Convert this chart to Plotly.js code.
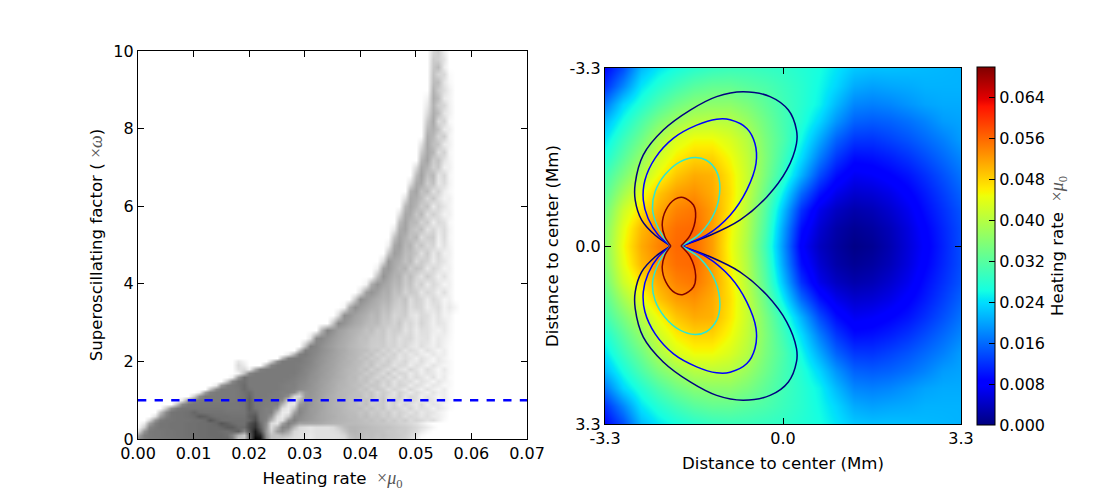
<!DOCTYPE html>
<html>
<head>
<meta charset="utf-8">
<script src="https://cdn.plot.ly/plotly-3.0.1.min.js"></script>
<style>
  html, body { margin: 0; padding: 0; background: #fff; }
</style>
</head>
<body>
<div id="myChart" style="width:1105px;height:492px;"></div>
<script>
// left panel: histogram darkness, 0 = white, 100 = black
var histX = [];
for (var c = 0; c <= 70; c++) histX.push(c / 1000);
var histY = [0,0.1,0.2,0.3,0.4,0.5,0.6,0.7,0.8,0.9,1,1.1,1.2,1.3,1.4,1.5,1.6,1.7,1.8,1.9,2,2.1,2.2,2.3,
  2.4,2.6,2.8,3,3.2,3.4,3.6,3.8,4,4.2,4.4,4.6,4.8,5,5.2,5.4,5.6,5.8,6,6.2,6.4,6.6,6.8,7,7.2,7.4,7.6,7.8,8,8.2,8.4,8.6,8.8,9,9.2,9.4,9.6,9.8,10];
// first non empty column of each row
var histStart = [0,0,0,0,1,2,3,4,5,7,8,10,11,13,14,16,17,18,18,18,18,26,27,29,
  30,31,33,35,36,37,39,40,41,43,43,44,45,45,46,46,47,47,48,48,49,49,50,50,51,51,51,52,52,52,52,52,52,53,53,53,53,53,53];
var histDark = [
  [45,50,52,52,53,53,54,54,55,55,56,56,57,57,58,58,58,50,20,22,55,100,95,45,25,22,18,14,12,12,10,8,12,12,12,12,13,14,22,26,26,24,25,23,24,22,22,20,18,14,8],
  [35,50,52,53,53,54,54,55,55,56,56,57,57,58,58,58,56,48,30,20,60,92,85,42,24,24,28,24,14,12,11,9,12,12,12,12,13,16,25,28,27,25,26,24,25,23,22,21,19,16,10,3],
  [12,42,52,53,53,54,54,55,55,56,56,57,57,58,58,57,56,58,62,48,66,90,70,40,18,38,44,34,16,13,12,10,12,12,12,13,15,22,28,29,27,26,26,25,24,22,22,20,20,17,14,8,3],
  [2,20,48,52,54,54,55,55,55,56,56,57,57,58,58,60,64,64,58,58,70,80,62,42,14,30,48,46,28,15,12,10,12,12,12,14,20,26,29,29,28,27,26,25,24,24,22,21,20,18,15,12,8,3],
  [8,36,50,54,54,55,55,55,56,56,57,57,58,60,66,62,58,56,56,68,76,58,44,14,10,36,50,44,36,36,35,34,33,31,30,29,28,27,27,26,25,24,23,22,21,20,18,17,15,12,8,3],
  [15,42,52,54,54,55,55,55,56,56,58,66,60,57,56,56,56,56,60,70,54,48,30,10,12,42,50,44,41,39,37,35,33,31,30,29,28,27,26,24,25,22,24,19,21,17,20,14,17,15,11,13,7,2],
  [12,38,50,54,55,55,56,58,64,62,58,56,56,56,55,55,55,62,66,52,50,42,14,8,20,46,46,42,40,37,35,33,32,30,29,27,27,24,26,22,23,19,21,16,19,13,16,14,10,13,8,7,3],
  [25,46,54,55,55,56,60,56,55,55,55,55,54,54,54,54,60,60,52,50,50,26,8,8,36,48,43,40,38,35,33,31,30,28,27,26,23,25,20,22,18,21,14,18,15,11,15,9,12,10,6,3],
  [22,44,52,54,54,54,54,54,54,54,54,53,53,53,54,62,54,52,50,50,42,14,8,22,46,44,40,38,36,33,31,30,28,26,25,26,21,24,19,22,15,19,16,12,17,10,13,11,6,10,6,2],
  [25,46,52,53,53,53,53,53,53,53,53,53,54,62,53,52,51,50,50,30,10,10,40,44,41,38,36,33,31,29,28,26,25,22,25,19,20,21,14,18,11,17,13,9,15,7,11,9,4,2],
  [10,40,50,52,52,52,52,52,52,52,53,55,62,52,52,51,51,50,46,18,8,28,42,40,38,35,33,31,29,28,25,26,21,24,20,17,22,13,19,15,10,16,12,7,13,9,4,8,3],
  [20,44,52,52,52,52,52,52,53,55,60,52,52,52,51,51,50,44,16,14,40,41,39,36,33,31,29,28,26,25,25,20,23,17,21,14,12,19,10,15,13,6,11,8,4,7,2],
  [6,38,50,52,52,52,52,53,56,58,52,52,52,52,51,50,50,46,30,40,42,39,37,34,32,29,28,27,25,24,21,23,15,20,17,11,18,13,8,14,10,5,11,6,7,2],
  [24,46,52,52,52,53,58,54,52,52,52,52,52,51,50,49,46,44,42,40,37,35,32,30,28,27,26,22,24,18,21,19,12,17,14,9,16,10,6,12,7,4,8,2],
  [8,40,50,52,54,58,52,52,52,52,52,52,51,50,50,47,45,43,40,38,35,33,30,29,27,25,25,20,22,21,14,19,12,17,15,8,13,11,5,10,8,3,3],
  [22,46,54,56,52,52,52,52,52,52,52,51,50,48,46,43,41,38,36,33,31,29,27,26,23,24,18,22,16,19,11,16,13,14,7,12,9,4,10,6,3],
  [6,40,56,52,52,52,52,52,52,52,52,51,49,47,44,42,39,37,34,32,30,27,27,22,24,21,16,20,14,18,10,16,9,14,11,6,12,4,8,2],
  [5,24,48,52,52,52,52,52,52,52,52,50,48,45,42,40,37,35,32,30,28,26,25,20,23,19,14,21,11,16,15,8,13,7,11,9,4,7,3],
  [12,14,6,34,50,52,52,52,52,52,52,51,48,46,43,40,38,35,33,30,28,27,23,25,18,22,17,13,19,12,9,16,11,6,13,8,3,9,3],
  [14,8,0,0,0,28,48,52,52,52,52,51,49,47,44,41,38,36,33,31,29,27,25,21,24,16,20,18,11,15,14,7,12,10,5,11,7,4,3],
  [10,4,0,0,0,0,18,44,52,52,52,52,50,48,44,42,39,36,34,31,30,27,26,22,23,19,16,20,13,12,16,9,8,13,7,4,9,6,3],
  [28,50,52,52,50,48,45,42,39,37,34,32,29,28,24,25,20,21,15,18,16,10,14,11,6,12,8,4,9,5,2],
  [8,30,50,52,49,46,43,40,37,35,32,30,28,26,22,24,17,20,15,18,11,14,9,12,8,5,10,6,7,2],
  [24,50,49,47,44,41,38,35,33,30,28,26,25,21,22,16,19,13,17,10,14,11,6,12,8,4,7,2],
  [25,50,48,44,40,37,34,32,29,27,25,23,20,19,20,16,17,13,16,11,8,13,9,6,10,5,2],
  [10,46,47,43,39,36,33,31,28,25,25,21,20,21,15,18,12,15,16,9,11,12,5,9,6,3],
  [28,48,43,38,35,32,30,28,24,26,20,22,16,19,19,11,15,8,13,12,7,5,9,4],
  [24,46,42,38,34,32,28,26,27,21,21,17,22,13,16,10,17,12,6,11,9,4],
  [14,44,42,37,34,31,27,29,22,24,16,18,20,12,9,15,13,7,12,5,5],
  [4,32,44,39,35,32,30,25,27,20,18,22,13,17,16,7,11,14,5,9,4],
  [22,44,40,36,32,29,30,23,20,24,13,19,16,8,15,11,4,6],
  [12,38,42,37,31,32,24,26,17,21,19,10,16,12,6,13,5],
  [5,32,42,36,33,27,29,20,24,14,19,8,15,11,4,6],
  [24,42,36,30,31,21,26,17,11,20,13,6,12,5],
  [6,36,40,33,28,30,19,24,21,9,16,12,5,6],
  [14,40,34,31,24,28,14,20,17,8,14,10,5],
  [22,38,35,26,27,22,12,21,9,16,6,6],
  [6,34,38,28,30,18,23,14,17,5,12,5],
  [24,36,31,24,28,13,19,20,6,14,4],
  [8,32,36,26,21,25,11,16,9,14,5],
  [26,36,28,27,17,21,7,15,12,3],
  [12,34,33,22,28,12,19,13,5,6],
  [28,35,29,20,24,8,16,10,5],
  [12,34,32,26,15,22,12,5,6],
  [30,36,24,27,12,18,7,3],
  [12,33,34,19,25,9,14,5],
  [26,37,24,28,10,16,4],
  [14,34,30,18,22,6,6],
  [28,36,20,24,11,5],
  [20,34,29,13,18,4],
  [11,34,25,23,8,6],
  [32,28,16,20,5],
  [27,31,24,8,7],
  [21,34,14,17,3],
  [14,32,26,10,6],
  [9,30,19,16,6],
  [5,32,26,8,5],
  [30,20,13,6],
  [26,26,10,3],
  [24,16,15,2],
  [22,27,7],
  [20,18,11],
  [16,20,7]
];
var cutX = [0, 0.07];
var cutY = [1, 1];

// right panel: heating rate
var heatX = [-3.3,-2.97,-2.64,-2.31,-1.98,-1.65,-1.32,-0.99,-0.66,-0.33,0,0.33,0.66,0.99,1.32,1.65,1.98,2.31,2.64,2.97,3.3];
var heatY = [-3.3,-2.97,-2.64,-2.31,-1.98,-1.65,-1.32,-0.99,-0.66,-0.33,0,0.33,0.66,0.99,1.32,1.65,1.98,2.31,2.64,2.97,3.3];
var heatZ = [
  [.009,.014,.0215,.0245,.0265,.028,.029,.0295,.0295,.029,.0285,.0275,.0265,.0245,.0225,.022,.022,.0218,.0215,.0213,.021],
  [.012,.018,.0245,.0275,.030,.032,.033,.033,.032,.031,.0295,.028,.026,.0235,.0205,.0198,.0202,.0205,.021,.021,.021],
  [.017,.0235,.0275,.031,.034,.036,.0365,.0365,.035,.0325,.030,.028,.0255,.0215,.018,.0175,.018,.019,.020,.0205,.0205],
  [.0215,.0265,.031,.035,.038,.040,.0405,.040,.0375,.034,.0305,.0275,.0235,.019,.0155,.015,.0155,.0165,.0178,.0195,.020],
  [.0245,.0295,.034,.039,.043,.045,.045,.043,.040,.035,.031,.026,.0205,.0155,.0125,.0123,.0133,.0145,.016,.0176,.0195],
  [.027,.032,.037,.042,.046,.048,.048,.045,.041,.0355,.030,.024,.0175,.0125,.0095,.0098,.0108,.0122,.014,.016,.018],
  [.030,.035,.040,.045,.049,.051,.0505,.0465,.0415,.035,.0285,.021,.014,.0095,.007,.0075,.0086,.010,.012,.0143,.0167],
  [.032,.0385,.044,.049,.052,.053,.051,.047,.041,.0335,.025,.016,.010,.0065,.0048,.0052,.0064,.0083,.0105,.013,.0155],
  [.034,.042,.047,.051,.054,.055,.052,.0465,.040,.032,.022,.012,.0065,.004,.0027,.0033,.0048,.0068,.0095,.012,.0145],
  [.0355,.044,.050,.053,.0555,.056,.052,.0455,.0395,.031,.020,.0095,.005,.0025,.0013,.002,.0035,.0058,.0085,.0113,.014],
  [.036,.045,.051,.054,.056,.056,.052,.045,.039,.030,.019,.008,.004,.002,.0005,.0012,.003,.0055,.008,.011,.014],
  [.0355,.044,.050,.053,.0555,.056,.052,.0455,.0395,.031,.020,.0095,.005,.0025,.0013,.002,.0035,.0058,.0085,.0113,.014],
  [.034,.042,.047,.051,.054,.055,.052,.0465,.040,.032,.022,.012,.0065,.004,.0027,.0033,.0048,.0068,.0095,.012,.0145],
  [.032,.0385,.044,.049,.052,.053,.051,.047,.041,.0335,.025,.016,.010,.0065,.0048,.0052,.0064,.0083,.0105,.013,.0155],
  [.030,.035,.040,.045,.049,.051,.0505,.0465,.0415,.035,.0285,.021,.014,.0095,.007,.0075,.0086,.010,.012,.0143,.0167],
  [.027,.032,.037,.042,.046,.048,.048,.045,.041,.0355,.030,.024,.0175,.0125,.0095,.0098,.0108,.0122,.014,.016,.018],
  [.0245,.0295,.034,.039,.043,.045,.045,.043,.040,.035,.031,.026,.0205,.0155,.0125,.0123,.0133,.0145,.016,.0176,.0195],
  [.0215,.0265,.031,.035,.038,.040,.0405,.040,.0375,.034,.0305,.0275,.0235,.019,.0155,.015,.0155,.0165,.0178,.0195,.020],
  [.017,.0235,.0275,.031,.034,.036,.0365,.0365,.035,.0325,.030,.028,.0255,.0215,.018,.0175,.018,.019,.020,.0205,.0205],
  [.012,.018,.0245,.0275,.030,.032,.033,.033,.032,.031,.0295,.028,.026,.0235,.0205,.0198,.0202,.0205,.021,.021,.021],
  [.009,.014,.0215,.0245,.0265,.028,.029,.0295,.0295,.029,.0285,.0275,.0265,.0245,.0225,.022,.022,.0218,.0215,.0213,.021]
];

// contour lobes, null splits the two lobes
var navyX = [-1.89,-1.35,-0.8,-0.3,0.07,0.25,0.25,0.1,-0.24,-0.74,-1.23,-1.72,-2.22,-2.59,-2.74,-2.74,-2.62,-2.37,-2.08,null,-1.89,-1.35,-0.8,-0.3,0.07,0.25,0.25,0.1,-0.24,-0.74,-1.23,-1.72,-2.22,-2.59,-2.74,-2.74,-2.62,-2.37,-2.08];
var navyY = [0,-0.2,-0.48,-0.91,-1.41,-1.9,-2.15,-2.52,-2.77,-2.86,-2.77,-2.52,-2.15,-1.69,-1.16,-0.85,-0.48,-0.2,0,null,0,0.2,0.48,0.91,1.41,1.9,2.15,2.52,2.77,2.86,2.77,2.52,2.15,1.69,1.16,0.85,0.48,0.2,0];
var blueX = [-1.89,-1.42,-0.98,-0.67,-0.5,-0.52,-0.67,-0.98,-1.23,-1.6,-2.03,-2.37,-2.56,-2.59,-2.5,-2.31,-2.08,null,-1.89,-1.42,-0.98,-0.67,-0.5,-0.52,-0.67,-0.98,-1.23,-1.6,-2.03,-2.37,-2.56,-2.59,-2.5,-2.31,-2.08];
var blueY = [0,-0.2,-0.57,-1.04,-1.53,-1.9,-2.18,-2.34,-2.35,-2.24,-2,-1.63,-1.22,-0.85,-0.51,-0.2,0,null,0,0.2,0.57,1.04,1.53,1.9,2.18,2.34,2.35,2.24,2,1.63,1.22,0.85,0.51,0.2,0];
var cyanX = [-1.89,-1.54,-1.26,-1.17,-1.23,-1.42,-1.63,-1.91,-2.19,-2.37,-2.42,-2.34,-2.22,-2.08,null,-1.89,-1.54,-1.26,-1.17,-1.23,-1.42,-1.63,-1.91,-2.19,-2.37,-2.42,-2.34,-2.22,-2.08];
var cyanY = [0,-0.23,-0.64,-1.07,-1.38,-1.59,-1.64,-1.56,-1.32,-1.01,-0.7,-0.39,-0.17,0,null,0,0.23,0.64,1.07,1.38,1.59,1.64,1.56,1.32,1.01,0.7,0.39,0.17,0];
var redX = [-1.89,-1.72,-1.62,-1.66,-1.85,-2,-2.17,-2.24,-2.19,-2.08,null,-1.89,-1.72,-1.62,-1.66,-1.85,-2,-2.17,-2.24,-2.19,-2.08];
var redY = [0,-0.2,-0.54,-0.76,-0.9,-0.87,-0.67,-0.39,-0.17,0,null,0,0.2,0.54,0.76,0.9,0.87,0.67,0.39,0.17,0];

var barTicks = [0,0.008,0.016,0.024,0.032,0.04,0.048,0.056,0.064];

// rows are stored from their first column, pad them out to the full axis
var histZ = histDark.map(function (row, r) {
  var full = new Array(histX.length).fill(0);
  row.forEach(function (v, i) { full[histStart[r] + i] = v; });
  return full;
});

var W = 1105, H = 492;
var jet = [
  [0,"rgb(0,0,127)"],[0.11,"rgb(0,0,255)"],[0.125,"rgb(0,0,255)"],[0.34,"rgb(0,219,255)"],[0.35,"rgb(0,229,247)"],
  [0.375,"rgb(20,255,226)"],[0.64,"rgb(237,255,10)"],[0.65,"rgb(247,246,0)"],[0.66,"rgb(255,236,0)"],
  [0.89,"rgb(255,19,0)"],[0.91,"rgb(228,0,0)"],[1,"rgb(127,0,0)"]
];
var mathStyle = "font-family:'Liberation Serif';font-size:18px;color:#555";
var tickFont = { family: "DejaVu Sans", size: 16, color: "#000" };
var titleFont = { family: "DejaVu Sans", size: 16.6, color: "#000" };
var baseAxis = {
  showgrid: false, zeroline: false, showline: true, mirror: "allticks",
  linecolor: "#000", linewidth: 1.2, ticks: "inside", ticklen: 6, tickwidth: 1, tickcolor: "#000",
  tickfont: tickFont
};
function axis(extra) { return Object.assign({}, baseAxis, extra); }

function line(x, y, color) {
  return { type: "scatter", mode: "lines", x: x, y: y, xaxis: "x2", yaxis: "y2", hoverinfo: "skip",
    showlegend: false, connectgaps: false, line: { color: color, width: 1.5, shape: "spline", smoothing: 0.9 } };
}

var traces = [
  { type: "heatmap", x: histX, y: histY, z: histZ, zmin: 0, zmax: 100, zsmooth: "best", showscale: false,
    colorscale: [[0, "#ffffff"], [1, "#000000"]], xaxis: "x", yaxis: "y" },
  { type: "scatter", mode: "lines", x: cutX, y: cutY, xaxis: "x", yaxis: "y", showlegend: false,
    line: { color: "#0000ff", width: 2.6, dash: "8.3px,8.3px" } },
  { type: "heatmap", x: heatX, y: heatY, z: heatZ, zmin: 0, zmax: 0.07, zsmooth: "best", colorscale: jet,
    xaxis: "x2", yaxis: "y2",
    colorbar: {
      x: 977 / W, xanchor: "left", xpad: 0, ypad: 0, thickness: 18, thicknessmode: "pixels",
      len: 358 / H, lenmode: "fraction", y: (H - 246) / H, yanchor: "middle",
      outlinewidth: 1, outlinecolor: "#000",
      tickmode: "array", tickvals: barTicks, tickformat: ".3f", ticks: "inside", ticklen: 6, tickcolor: "#000",
      tickfont: tickFont,
      title: { text: "Heating rate  <span style=\"" + mathStyle + "\">×<i>μ</i><sub>0</sub></span>", side: "right", font: titleFont }
    } },
  line(navyX, navyY, "#00007f"),
  line(blueX, blueY, "#0000ff"),
  line(cyanX, cyanY, "#2ee6d0"),
  line(redX, redY, "#7f0000")
];

var layout = {
  width: W, height: H,
  margin: { l: 0, r: 0, t: 0, b: 0 },
  paper_bgcolor: "#fff", plot_bgcolor: "#fff",
  font: { family: "DejaVu Sans", size: 16, color: "#000" },
  showlegend: false,
  xaxis: axis({
    domain: [138 / W, 527 / W], range: [0, 0.07], tickmode: "array",
    tickvals: [0,0.01,0.02,0.03,0.04,0.05,0.06,0.07], tickformat: ".2f",
    title: { text: "Heating rate  <span style=\"" + mathStyle + "\">×<i>μ</i><sub>0</sub></span>", font: titleFont, standoff: 10 }
  }),
  yaxis: axis({
    domain: [(H - 439) / H, (H - 51) / H], range: [0, 10], tickmode: "array",
    tickvals: [0,2,4,6,8,10],
    title: { text: "Superoscillating factor ( <span style=\"" + mathStyle + "\">×<i>ω</i></span>)", font: titleFont, standoff: 6 }
  }),
  xaxis2: axis({
    domain: [605 / W, 961 / W], range: [-3.3, 3.3], anchor: "y2", tickmode: "array",
    tickvals: [-3.3,0,3.3], ticktext: ["-3.3","0.0","3.3"],
    title: { text: "Distance to center (Mm)", font: titleFont, standoff: 10 }
  }),
  yaxis2: axis({
    domain: [(H - 424) / H, (H - 68) / H], range: [3.3, -3.3], anchor: "x2", tickmode: "array",
    tickvals: [-3.3,0,3.3], ticktext: ["-3.3","0.0","3.3"],
    title: { text: "Distance to center (Mm)", font: titleFont, standoff: 6 }
  })
};

Plotly.newPlot("myChart", traces, layout, { displayModeBar: false, staticPlot: true });
</script>
</body>
</html>
